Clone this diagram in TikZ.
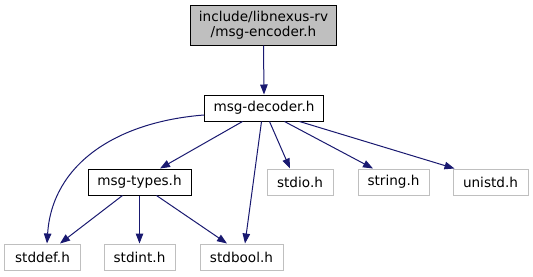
\documentclass[tikz,border=0pt]{standalone}
\usepackage{fontspec}
\setmainfont{DejaVu Sans}
\usetikzlibrary{arrows.meta,calc}
\definecolor{edgeblue}{HTML}{191970}
\definecolor{sysgray}{HTML}{BFBFBF}
\begin{document}
\begin{tikzpicture}[x=1bp,y=-1bp,
  every node/.style={font=\fontsize{13.6bp}{15bp}\selectfont, inner sep=0pt, align=center},
  filebox/.style={draw=black, line width=1bp, minimum height=26bp},
  sysbox/.style={draw=sysgray, line width=1bp, minimum height=26bp},
  rootbox/.style={draw=black, fill=sysgray, line width=1bp, minimum width=146bp, minimum height=40bp},
  dep/.style={draw=edgeblue, line width=1bp, -{Triangle[length=10bp,width=7.5bp]}}]
\useasboundingbox (0,0) rectangle (533,276);
% header whose include graph is shown
\node[rootbox] (top) at (263.5,25) {include/libnexus-rv\\/msg-encoder.h};
% project headers
\node[filebox, minimum width=119bp] (dec) at (264,108) {msg-decoder.h};
\node[filebox, minimum width=103bp] (types) at (139.5,182) {msg-types.h};
% system headers
\node[sysbox, minimum width=66bp] (stdio) at (300,182) {stdio.h};
\node[sysbox, minimum width=71bp] (string) at (393.5,182) {string.h};
\node[sysbox, minimum width=75bp] (unistd) at (490.5,182) {unistd.h};
\node[sysbox, minimum width=75bp] (stddef) at (42.5,257) {stddef.h};
\node[sysbox, minimum width=71bp] (stdint) at (139.5,257) {stdint.h};
\node[sysbox, minimum width=83bp] (stdbool) at (241.5,257) {stdbool.h};
% include edges
\draw[dep] (top.south) -- (dec.north);
\draw[dep] ($(dec.west)+(0,7)$) .. controls (115,122) and (52,165) .. ($(stddef.north)+(4.5,0)$);
\draw[dep] ($(dec.south west)+(38.5,0)$) -- ($(types.north)+(20.5,0)$);
\draw[dep] ($(dec.south west)+(57.5,0)$) -- ($(stdbool.north)+(3.5,0)$);
\draw[dep] ($(dec.south west)+(65.5,0)$) -- ($(stdio.north)+(-10,0)$);
\draw[dep] ($(dec.south west)+(80.5,0)$) -- ($(string.north)+(-20.5,0)$);
\draw[dep] ($(dec.south west)+(95.5,0)$) -- ($(unistd.north west)+(2,0)$);
\draw[dep] ($(types.south west)+(35,0)$) -- ($(stddef.north)+(17.5,0)$);
\draw[dep] (types.south) -- (stdint.north);
\draw[dep] ($(types.south west)+(69,0)$) -- ($(stdbool.north)+(-14.5,0)$);
\end{tikzpicture}
\end{document}
